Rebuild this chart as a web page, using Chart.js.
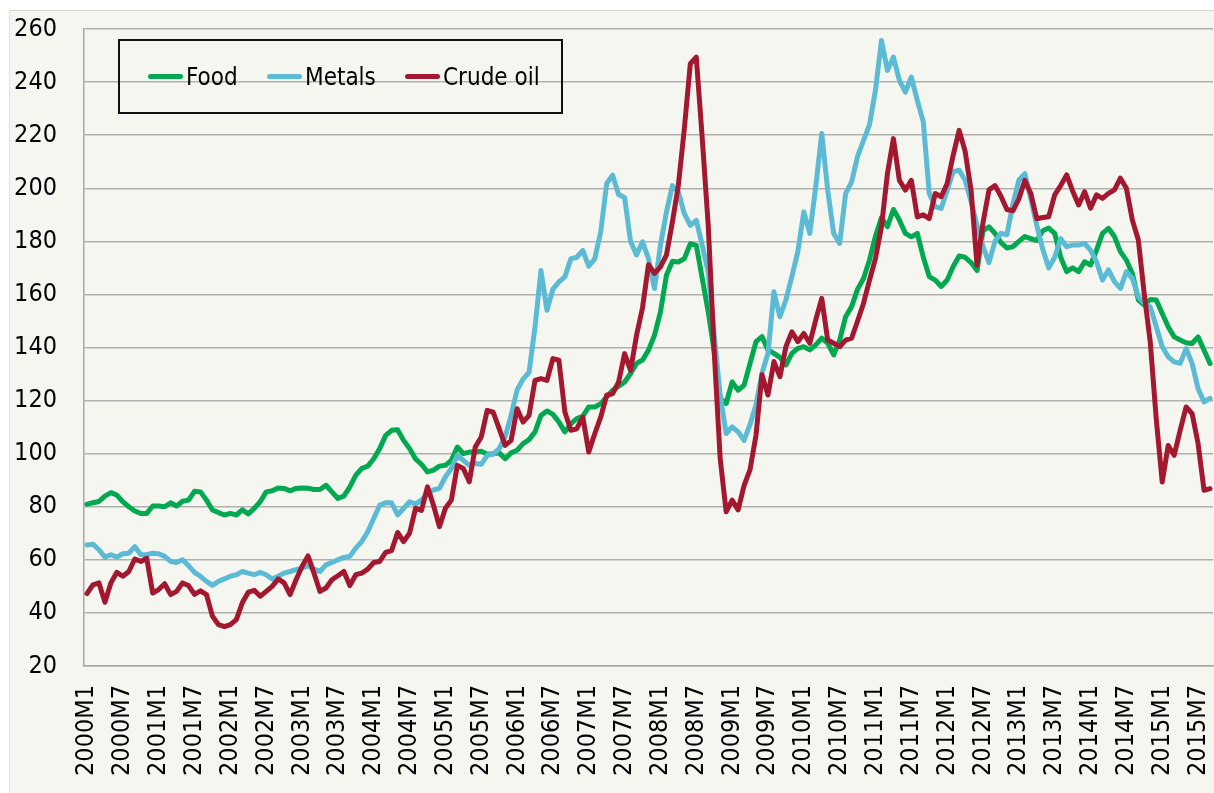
<!DOCTYPE html>
<html>
<head>
<meta charset="utf-8">
<script src="https://cdn.jsdelivr.net/npm/chart.js@4.4.1/dist/chart.umd.min.js"></script>
<style>
  html, body { margin: 0; padding: 0; background: #ffffff; }
  body { width: 1214px; height: 793px; overflow: hidden; position: relative;
         font-family: "DejaVu Sans Condensed", "DejaVu Sans", sans-serif; }
  #panel { position: absolute; left: 9px; top: 10px; right: 0; bottom: 0;
           background: #f6f6f1; border-top: 1px solid #d6d6d2; border-left: 1px solid #e2e2de; }
  #myChart { position: absolute; left: 0; top: 0; }
  #legend { position: absolute; left: 118px; top: 39px; width: 441px; height: 71px;
            border: 2px solid #111; z-index: 2; }
  .item { position: absolute; top: 0; height: 71px; display: flex; align-items: center;
          font-size: 24px; color: #000; white-space: nowrap; }
  .sw { width: 35px; height: 5px; border-radius: 3px; margin-right: 3px; }
</style>
</head>
<body>
<div id="panel"></div>
<canvas id="myChart" width="1214" height="793"></canvas>
<div id="legend">
  <div class="item" style="left:28px"><span class="sw" style="background:#00a94f"></span>Food</div>
  <div class="item" style="left:147px"><span class="sw" style="background:#5bbbd5"></span>Metals</div>
  <div class="item" style="left:285px"><span class="sw" style="background:#a3182f"></span>Crude oil</div>
</div>
<script>
// monthly categories 2000M1 .. 2015M9
const months = [];
for (let y = 2000; y <= 2015; y++) {
    for (let m = 1; m <= 12; m++) {
        if (y === 2015 && m > 9) break;
        months.push(y + 'M' + m);
    }
}

const food = [
    81, 81.5, 82, 84, 85.3, 84.4, 81.9, 80, 78.4, 77.5, 77.5, 80.3,
    80.3, 80, 81.5, 80.3, 82.1, 82.5, 85.8, 85.6, 82.5, 78.8, 77.8, 76.9,
    77.5, 76.9, 78.8, 77.3, 79.4, 81.9, 85.6, 86, 87.1, 86.9, 86, 86.9,
    87.1, 87, 86.5, 86.5, 88.1, 85.6, 83.1, 84, 87.5, 91.9, 94.4, 95.3,
    98.1, 101.9, 106.9, 108.8, 109, 105, 101.9, 98, 96, 93.1, 93.8, 95.3,
    95.6, 97.5, 102.5, 100, 100.6, 100.6, 100.9, 99.8, 100, 100.3, 98.1, 100.3,
    101.3, 103.8, 105.3, 108.2, 114.4, 116.1, 114.8, 111.9, 108.2, 111.3, 113.2, 114.1,
    117.6, 117.6, 118.8, 121.4, 123.9, 125.4, 127, 130.2, 134, 135.3, 139, 144.6,
    153.4, 167.2, 172.5, 172.2, 173.5, 179.1, 178.5, 166, 153.4, 138.4, 120.8, 118.9,
    127, 123.9, 125.8, 134, 142.2, 144.1, 139.1, 137.8, 136.3, 133.4, 137.8, 139.7,
    140.3, 139.1, 141, 143.5, 141.6, 137.2, 142.8, 151.6, 155.4, 162, 166, 173,
    182, 189, 185.5, 192, 188, 183, 181.7, 183, 174, 166.7, 165.4, 163,
    165.4, 170.5, 174.5, 174, 172, 169, 184, 185.5, 183, 179.5, 177.5, 178,
    180, 181.8, 181, 180.3, 184, 185, 183, 174, 168.6, 170, 168.6, 172.3,
    171.1, 176.7, 183, 184.9, 181.8, 176.1, 172.9, 167.9, 157.9, 156, 158.1, 157.9,
    152.8, 147.8, 144, 142.8, 141.8, 141.5, 144, 139, 134
];

const metals = [
    65.6, 65.9, 63.8, 61, 61.9, 61, 62.3, 62.5, 65, 61.9, 61.9, 62.5,
    62.3, 61.3, 59.4, 59, 60, 57.8, 55.3, 53.8, 51.9, 50.4, 51.9, 52.8,
    53.8, 54.4, 55.6, 55, 54.4, 55.3, 54.4, 52.8, 53.8, 55, 55.6, 56.3,
    56.9, 57.8, 56.5, 55.6, 58.1, 59, 60, 60.9, 61.3, 64.4, 66.9, 70.6,
    75.6, 80.6, 81.5, 81.5, 76.9, 79.4, 81.9, 81, 82.5, 85, 86.3, 86.9,
    91.3, 94.4, 99.4, 97.5, 95.6, 96.3, 96, 99.4, 99.8, 101.9, 106.3, 114.4,
    124, 128.1, 130.6, 147.7, 169, 154, 162, 164.7, 166.6, 173.4, 174, 176.6,
    170.6, 173.4, 183.5, 201.8, 204.9, 197.6, 196.5, 179.9, 174.9, 179.8, 173.5, 162.2,
    178.5, 191, 201, 198.6, 190.4, 186, 187.9, 178.5, 168.5, 144.6, 122, 107.6,
    110.1, 108.2, 105, 111, 118.4, 130.3, 137.8, 161, 151.6, 157.9, 166.7, 176.1,
    191.1, 183, 200.6, 220.6, 199.3, 183, 179.2, 198, 202.4, 212, 218, 224,
    237, 255.7, 244.4, 249.4, 240.6, 236.2, 241.9, 233.1, 225, 198, 193, 192.4,
    199.3, 206.2, 206.8, 203, 195, 186, 178, 172, 180, 183, 182.5, 194,
    203, 205.5, 196, 186, 177, 170, 174, 181, 178, 178.6, 178.6, 179.2,
    176.7, 172.3, 165.4, 169.2, 164.8, 162.3, 168.6, 166, 159.1, 156.6, 155.3, 147.8,
    140.3, 136.5, 134.6, 134, 139.6, 134, 124.5, 119.5, 120.8
];

const crudeOil = [
    47.3, 50.6, 51.3, 44, 51.3, 55.3, 53.8, 55.6, 60.3, 59.4, 60.6, 47.5,
    48.8, 51, 46.9, 48.1, 51.3, 50.3, 47, 48.3, 46.9, 38.8, 35.6, 34.8,
    35.6, 37.5, 43.8, 47.8, 48.5, 46.3, 48.1, 50, 52.8, 51.3, 46.9, 52.5,
    57.5, 61.5, 55, 48.1, 49.4, 52.5, 54, 55.6, 50.3, 54.4, 55, 56.5,
    59, 59.4, 62.8, 63.5, 70.3, 66.9, 70, 79.4, 78.6, 87.5, 80.6, 72.5,
    79.4, 82.5, 95.6, 94.4, 89.4, 102.5, 106.3, 116.3, 115.6, 109.4, 103.1, 105,
    116.9, 111.9, 114.4, 127.6, 128.3, 127.6, 135.8, 135.2, 115.7, 108.8, 109.4, 113.8,
    100.6, 107.5, 113.8, 122, 122.6, 127, 137.7, 131.4, 144.6, 155, 171.2, 167.9,
    170.4, 174.8, 187.3, 201.1, 222.4, 246.9, 249.4, 218.7, 186, 138.4, 98.2, 78.1,
    82.5, 78.8, 88, 94, 107, 129.7, 122.1, 134.7, 129, 140.3, 145.9, 142.2,
    145.3, 141.6, 150.4, 158.5, 142.8, 141.6, 140.3, 142.8, 143.5, 150, 156.7, 165.4,
    173.6, 185.5, 205.5, 218.7, 203, 199.3, 203, 189.2, 190, 188.6, 198, 196.8,
    201.8, 212.4, 221.8, 214, 199.3, 171, 187, 199.4, 201, 197, 192, 191.5,
    196, 203, 198, 188.5, 189, 189.3, 197.5, 201, 205, 199, 193.7, 198.7,
    192.5, 197.5, 196.2, 198.1, 199.4, 203.8, 200, 188, 180.5, 160, 142, 113,
    89.3, 103.1, 99.4, 108.8, 117.6, 115.1, 103.8, 86.2, 86.8
];

const yTicks = { min: 20, max: 260, step: 20 };

const fontFamily = '"DejaVu Sans Condensed", "DejaVu Sans", sans-serif';
Chart.defaults.font.family = fontFamily;
Chart.defaults.font.size = 25;
Chart.defaults.color = '#000';

const lineStyle = (label, data, color, order) => ({
    label: label,
    data: data,
    borderColor: color,
    backgroundColor: color,
    borderWidth: 5,
    pointRadius: 0,
    tension: 0,
    borderJoinStyle: 'round',
    borderCapStyle: 'round',
    order: order
});

const ctx = document.getElementById('myChart').getContext('2d');
const myChart = new Chart(ctx, {
    type: 'line',
    data: {
        labels: months,
        datasets: [
            lineStyle('Food', food, '#00a94f', 2),
            lineStyle('Metals', metals, '#5bbbd5', 1),
            lineStyle('Crude oil', crudeOil, '#a3182f', 0)
        ]
    },
    options: {
        responsive: false,
        animation: false,
        devicePixelRatio: 1,
        layout: { padding: { top: 29, right: 1, bottom: 0, left: 0 } },
        plugins: { legend: { display: false }, tooltip: { enabled: false } },
        scales: {
            x: {
                offset: true,
                grid: { display: false, drawTicks: false },
                border: { display: true, color: '#a8a8a8', width: 1.5 },
                ticks: {
                    autoSkip: false,
                    minRotation: 90,
                    maxRotation: 90,
                    padding: 19,
                    font: { size: 25 },
                    callback: function (v) {
                        const l = this.getLabelForValue(v);
                        return /M(1|7)$/.test(l) ? l : '';
                    }
                },
                afterFit: s => { s.height = 127; s.paddingLeft = 0; s.paddingRight = 0; }
            },
            y: {
                min: yTicks.min,
                max: yTicks.max,
                grid: { color: '#b0b0ae', lineWidth: 1.5, drawTicks: false },
                border: { display: true, color: '#a8a8a8', width: 1.5 },
                ticks: { stepSize: yTicks.step, padding: 27, font: { size: 25 } },
                afterFit: s => { s.width = 84; s.paddingTop = 0; s.paddingBottom = 0; }
            }
        }
    }
});
</script>
</body>
</html>
